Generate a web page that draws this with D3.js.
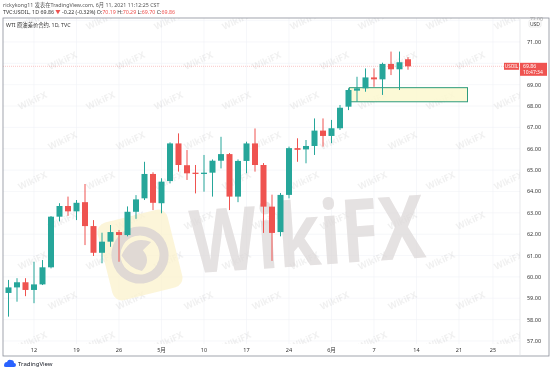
<!DOCTYPE html>
<html lang="zh">
<head>
<meta charset="UTF-8">
<title>USOIL 1D</title>
<script src="https://d3js.org/d3.v7.min.js"></script>
<style>
  body { margin: 0; background: #fff; }
  text { font-family: "Noto Sans", "Noto Sans CJK SC", sans-serif; }
</style>
</head>
<body>
<svg width="554" height="370"></svg>
<script>
// daily candles, weekdays from Apr 6 to Jun 11 2021
var dates = ["04-06","04-07","04-08","04-09","04-12","04-13","04-14","04-15","04-16",
  "04-19","04-20","04-21","04-22","04-23","04-26","04-27","04-28","04-29","04-30",
  "05-03","05-04","05-05","05-06","05-07","05-10","05-11","05-12","05-13","05-14",
  "05-17","05-18","05-19","05-20","05-21","05-24","05-25","05-26","05-27","05-28",
  "05-31","06-01","06-02","06-03","06-04","06-07","06-08","06-09","06-10","06-11"];
var open  = [58.95,59.25,59.51,59.75,59.39,59.65,60.45,62.82,63.32,63.07,63.50,62.38,61.13,61.65,62.10,61.96,63.05,63.68,64.82,
  63.45,64.49,66.25,65.23,64.88,64.82,64.88,65.44,65.75,63.76,65.43,66.25,65.24,63.29,62.10,63.84,66.03,65.97,66.13,66.85,
  66.60,66.96,67.97,68.72,68.83,69.34,69.25,69.97,69.72,70.19];
var high  = [59.50,59.86,59.94,59.94,60.71,60.79,62.85,63.45,63.76,63.60,64.35,62.66,62.07,62.43,62.20,63.30,63.83,65.39,64.90,
  64.62,66.30,66.72,65.94,65.24,65.71,65.50,66.56,65.80,65.50,66.33,66.95,65.33,63.85,63.93,66.10,66.49,66.41,67.42,67.42,
  67.35,68.05,68.83,69.37,69.76,69.76,70.03,70.55,70.55,70.29];
var low   = [58.70,58.14,58.84,59.10,58.77,59.62,60.40,62.60,62.86,62.66,61.49,60.98,60.64,61.41,60.71,61.90,62.72,63.60,63.13,
  62.98,64.38,64.93,64.54,63.91,63.99,63.76,65.08,63.13,63.50,64.85,64.93,62.06,60.75,61.90,63.68,65.39,65.32,65.71,66.10,
  66.26,66.88,67.81,68.20,68.67,68.90,68.52,69.45,68.75,69.70];
var close = [59.25,59.51,59.75,59.39,59.65,60.45,62.82,63.32,63.07,63.47,62.38,61.13,61.65,62.10,61.96,63.05,63.63,64.82,63.47,
  64.46,66.25,65.24,64.85,64.82,64.88,65.44,65.75,63.76,65.43,66.25,65.24,63.29,62.06,63.84,66.03,65.95,66.13,66.85,66.60,
  66.96,67.92,68.75,68.83,69.34,69.25,69.97,69.72,70.05,69.86];

// time axis labels (bar index, text)
var timeTickIdx = [4, 9, 14, 19, 24, 29, 34, 39, 44, 49, 54, 58];
var timeTickText = ["12","19","26","5月","10","17","24","6月","7","14","21","25"];
var priceTicks = [57,58,59,60,61,62,63,64,65,66,67,68,69,70,71,72];

var lastPrice = 69.86;
var zoneLow = 68.2, zoneHigh = 68.86, zoneFrom = 41.1, zoneTo = 55;

var svg = d3.select("svg");
var green = "#26a69a", red = "#ef5350";
var plotL = 3, plotR = 520, plotT = 18, plotB = 344, frameR = 549, frameB = 356;

var x = d3.scaleLinear().domain([0, 60]).range([0, 510]);
var y = d3.scaleLinear().domain([57, 72]).range([341, 20.6]);

svg.append("defs").append("clipPath").attr("id", "pc")
  .append("rect").attr("x", plotL).attr("y", plotT)
  .attr("width", plotR - plotL).attr("height", plotB - plotT);

var plot = svg.append("g").attr("clip-path", "url(#pc)");

// grid
plot.selectAll(".hg").data(priceTicks).enter().append("line")
  .attr("x1", plotL).attr("x2", plotR)
  .attr("y1", function (d) { return y(d); }).attr("y2", function (d) { return y(d); })
  .attr("stroke", "#f0f2f6").attr("stroke-width", 0.6);
plot.selectAll(".vg").data(timeTickIdx).enter().append("line")
  .attr("x1", function (d) { return x(d); }).attr("x2", function (d) { return x(d); })
  .attr("y1", plotT).attr("y2", plotB)
  .attr("stroke", "#f0f2f6").attr("stroke-width", 0.6);

// small watermarks
var wm = plot.append("g").attr("opacity", 0.09);
for (var r = 0; r < 9; r++) {
  for (var c = 0; c < 8; c++) {
    var wx = 20 + c * 68 + (r % 2) * 30, wy = 30 + r * 40;
    wm.append("text").attr("transform", "translate(" + wx + "," + wy + ") rotate(-25)")
      .attr("font-size", 9).attr("font-weight", "bold").attr("fill", "#555")
      .text("WikiFX");
  }
}

// big watermark
var logo = plot.append("g").attr("transform", "translate(140,255) rotate(-14)");
logo.append("rect").attr("x", -36).attr("y", -40).attr("width", 72).attr("height", 80)
  .attr("rx", 10).attr("fill", "#fbf1cc").attr("opacity", 0.75);
logo.append("circle").attr("r", 24).attr("fill", "none").attr("stroke", "#d8d2d2").attr("stroke-width", 9).attr("opacity", 0.8);
logo.append("path").attr("d", "M-18,-4 Q-4,-22 14,-10 L4,-4 Q10,8 -2,16 Q-14,10 -18,-4Z")
  .attr("fill", "#d8d2d2").attr("opacity", 0.8);
plot.append("text").attr("x", 190).attr("y", 266)
  .attr("transform", "rotate(-4,300,235)")
  .attr("font-size", 88).attr("font-weight", "bold").attr("font-family", "Lato, sans-serif")
  .attr("fill", "#ddd8d8").attr("opacity", 0.75)
  .attr("textLength", 235).attr("lengthAdjust", "spacingAndGlyphs")
  .text("WikiFX");

// zone rectangle
plot.append("rect")
  .attr("x", x(zoneFrom)).attr("y", y(zoneHigh))
  .attr("width", x(zoneTo) - x(zoneFrom)).attr("height", y(zoneLow) - y(zoneHigh))
  .attr("fill", "#fbf8cf").attr("fill-opacity", 0.85)
  .attr("stroke", "#2e9c7c").attr("stroke-width", 1);

// last price line
plot.append("line").attr("x1", plotL).attr("x2", plotR)
  .attr("y1", y(lastPrice)).attr("y2", y(lastPrice))
  .attr("stroke", red).attr("stroke-opacity", 0.45).attr("stroke-width", 0.7)
  .attr("stroke-dasharray", "1,1");

// candles
var idx = d3.range(dates.length);
var candle = plot.selectAll(".c").data(idx).enter().append("g");
candle.append("line")
  .attr("x1", function (i) { return x(i); }).attr("x2", function (i) { return x(i); })
  .attr("y1", function (i) { return y(high[i]); }).attr("y2", function (i) { return y(low[i]); })
  .attr("stroke", function (i) { return close[i] >= open[i] ? green : red; })
  .attr("stroke-width", 1);
candle.append("rect")
  .attr("x", function (i) { return x(i) - 3; }).attr("width", 6)
  .attr("y", function (i) { return y(Math.max(open[i], close[i])); })
  .attr("height", function (i) { return Math.max(1, Math.abs(y(open[i]) - y(close[i]))); })
  .attr("fill", function (i) { return close[i] >= open[i] ? green : red; });

// frame
svg.append("rect").attr("x", plotL).attr("y", plotT).attr("width", frameR - plotL).attr("height", frameB - plotT)
  .attr("fill", "none").attr("stroke", "#8a8e99").attr("stroke-width", 0.8);
svg.append("line").attr("x1", plotR).attr("x2", plotR).attr("y1", plotT).attr("y2", frameB)
  .attr("stroke", "#d6d8de").attr("stroke-width", 0.6);

// price axis (the 70.00 label sits under the last-price tag)
var shownTicks = priceTicks.filter(function (d) { return d < 72 && Math.abs(d - lastPrice) > 0.5; });
svg.append("g").selectAll("text").data(shownTicks).enter().append("text")
  .attr("x", 534).attr("y", function (d) { return y(d) + 2; })
  .attr("text-anchor", "middle").attr("font-size", 5.5).attr("fill", "#333")
  .text(function (d) { return d.toFixed(2); });
svg.append("text").attr("x", 530).attr("y", 21).attr("font-size", 5).attr("fill", "#999").text("72.00");
svg.append("rect").attr("x", 529).attr("y", 20).attr("width", 12).attr("height", 7).attr("rx", 1.5)
  .attr("fill", "#fff").attr("stroke", "#ccc").attr("stroke-width", 0.4);
svg.append("text").attr("x", 535).attr("y", 25.6).attr("text-anchor", "middle")
  .attr("font-size", 5).attr("fill", "#333").text("USD");

// price tags
var ty = y(lastPrice);
svg.append("rect").attr("x", 504).attr("y", ty - 3.5).attr("width", 15).attr("height", 7).attr("fill", red);
svg.append("text").attr("x", 511.5).attr("y", ty + 1.8).attr("text-anchor", "middle")
  .attr("font-size", 4.6).attr("fill", "#fff").text("USOIL");
svg.append("rect").attr("x", 520).attr("y", ty - 3.5).attr("width", 27).attr("height", 13).attr("fill", red);
svg.append("text").attr("x", 523).attr("y", ty + 1.8).attr("font-size", 5.2).attr("fill", "#fff").text(lastPrice.toFixed(2));
svg.append("text").attr("x", 523).attr("y", ty + 7.6).attr("font-size", 5).attr("fill", "#fff").text("10:47:34");

// time axis
svg.append("g").selectAll("text").data(timeTickIdx).enter().append("text")
  .attr("x", function (d) { return x(d); }).attr("y", 351.5)
  .attr("text-anchor", "middle").attr("font-size", 5.5).attr("fill", "#333")
  .text(function (d, k) { return timeTickText[k]; });

// header
svg.append("text").attr("x", 3).attr("y", 7).attr("font-size", 5.3).attr("fill", "#555")
  .text("rickykong11 发表在TradingView.com, 6月 11, 2021 11:12:25 CST");
var h2 = svg.append("text").attr("x", 3).attr("y", 14).attr("font-size", 5.3).attr("fill", "#333");
h2.append("tspan").text("TVC:USOIL, 1D 69.86 ");
h2.append("tspan").attr("fill", red).text("▼");
h2.append("tspan").text(" -0.22 (-0.32%) O:");
h2.append("tspan").attr("fill", red).text("70.19");
h2.append("tspan").text(" H:");
h2.append("tspan").attr("fill", red).text("70.29");
h2.append("tspan").text(" L:");
h2.append("tspan").attr("fill", red).text("69.70");
h2.append("tspan").text(" C:");
h2.append("tspan").attr("fill", red).text("69.86");
svg.append("text").attr("x", 6).attr("y", 27).attr("font-size", 5.3).attr("fill", "#333")
  .text("WTI 原油差价合约, 1D, TVC");

// TradingView logo
var tv = svg.append("g").attr("transform", "translate(4,360)");
tv.append("path").attr("d", "M0,6 Q0,2 3,2 Q4,-1 7,0 Q10,0 10,3 Q12,3 12,5 Q12,7 10,7 L2,7 Q0,7 0,6Z")
  .attr("fill", "#2962ff");
tv.append("text").attr("x", 14).attr("y", 6).attr("font-size", 6).attr("fill", "#131722").text("TradingView");
</script>
</body>
</html>
